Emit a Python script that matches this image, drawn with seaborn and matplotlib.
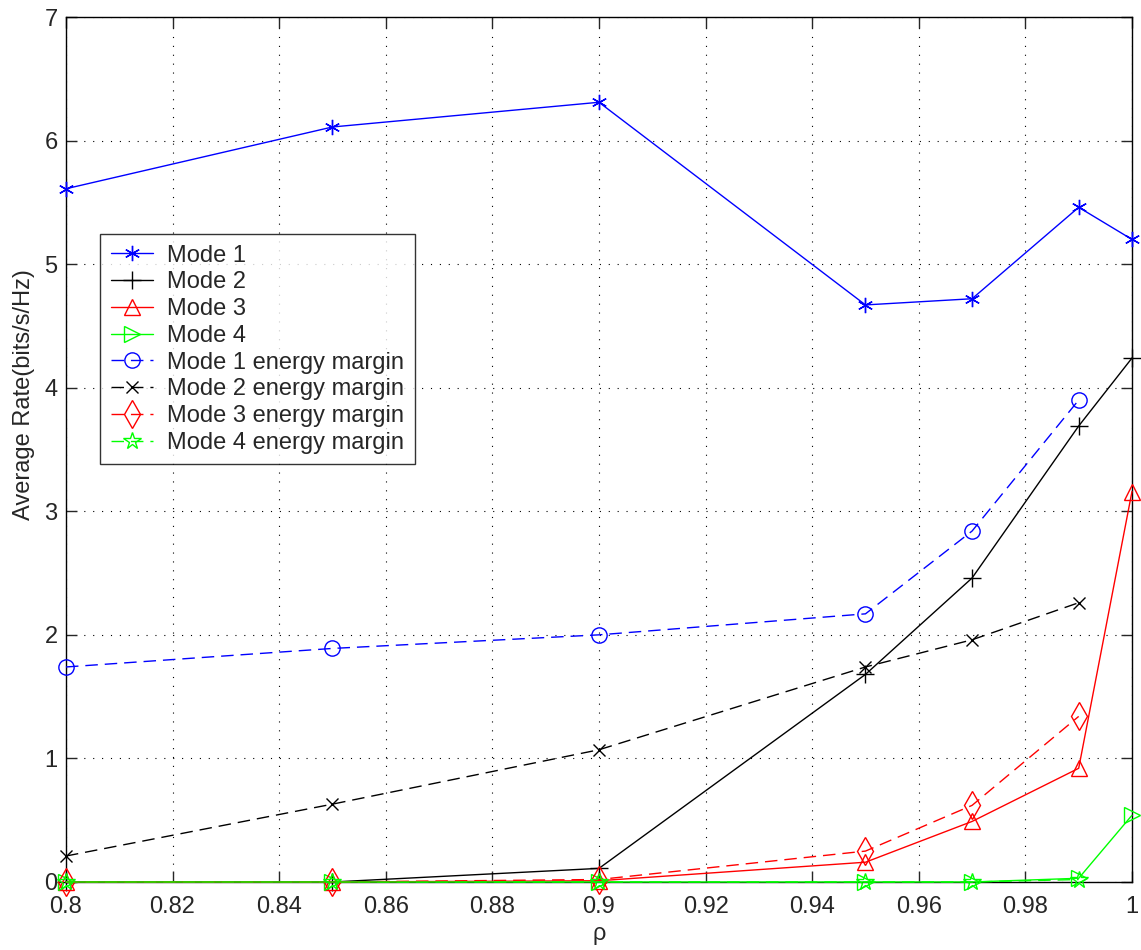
import numpy as np
import pandas as pd
import matplotlib
matplotlib.use("Agg")
import matplotlib.pyplot as plt
import seaborn as sns

# Data
rho = [0.8, 0.85, 0.9, 0.95, 0.97, 0.99, 1.0]
rho_em = [0.8, 0.85, 0.9, 0.95, 0.97, 0.99]

mode1 = [5.61, 6.11, 6.31, 4.67, 4.72, 5.46, 5.20]
mode2 = [0.0, 0.0, 0.11, 1.68, 2.46, 3.69, 4.24]
mode3 = [0.0, 0.0, 0.01, 0.16, 0.49, 0.92, 3.16]
mode4 = [0.0, 0.0, 0.0, 0.0, 0.0, 0.03, 0.54]

mode1_em = [1.74, 1.89, 2.00, 2.17, 2.84, 3.90]
mode2_em = [0.21, 0.63, 1.07, 1.74, 1.96, 2.26]
mode3_em = [0.0, 0.0, 0.02, 0.25, 0.62, 1.34]
mode4_em = [0.0, 0.0, 0.0, 0.0, 0.0, 0.02]

labels = ["Mode 1", "Mode 2", "Mode 3", "Mode 4",
          "Mode 1 energy margin", "Mode 2 energy margin",
          "Mode 3 energy margin", "Mode 4 energy margin"]

sns.set_style("ticks")
plt.rcParams['font.family'] = ['Liberation Sans', 'DejaVu Sans']

fig = plt.figure(figsize=(11.41, 9.5), dpi=100)
ax = fig.add_axes([0.0578, 0.0716, 0.9343, 0.9105])

dash = (0, (9, 5))
# (x, y, colour, marker, linestyle, markersize)
series = [
    (rho, mode1, "#0000ff", (6, 2, 0), "-", 11),
    (rho, mode2, "#000000", "+", "-", 13),
    (rho, mode3, "#ff0000", "^", "-", 12),
    (rho, mode4, "#00ff00", ">", "-", 12),
    (rho_em, mode1_em, "#0000ff", "o", dash, 11),
    (rho_em, mode2_em, "#000000", "x", dash, 9),
    (rho_em, mode3_em, "#ff0000", "d", dash, 14),
    (rho_em, mode4_em, "#00ff00", "*", dash, 13),
]

for (x, y, c, m, ls, ms), lab in zip(series, labels):
    sns.lineplot(x=x, y=y, ax=ax, color=c, marker=m, linestyle=ls,
                 markersize=ms, markerfacecolor="none", markeredgecolor=c,
                 markeredgewidth=1.0, linewidth=1.0, label=lab,
                 estimator=None, sort=False, clip_on=False, zorder=3)

ax.set_xlim(0.8, 1.0)
ax.set_ylim(0, 7)
ax.set_xticks(np.arange(0.8, 1.0001, 0.02))
ax.set_xticklabels(["0.8", "0.82", "0.84", "0.86", "0.88", "0.9",
                    "0.92", "0.94", "0.96", "0.98", "1"])
ax.set_yticks(range(0, 8))
ax.tick_params(direction="in", length=8, width=1, labelsize=17,
               top=True, right=True)
ax.tick_params(axis="x", pad=10)
ax.tick_params(axis="y", pad=6)
ax.grid(True, color="black", linestyle=(0, (1, 7)), linewidth=0.8)
for s in ax.spines.values():
    s.set_linewidth(1.0)
    s.set_color("black")
    s.set_zorder(2)

ax.set_xlabel("ρ", fontsize=17, labelpad=4)
ax.set_ylabel("Average Rate(bits/s/Hz)", fontsize=17, labelpad=8)
ax.yaxis.set_label_coords(-0.029, 0.564)

leg = ax.legend(loc="upper left", bbox_to_anchor=(0.032, 0.749), fontsize=17,
                frameon=True, fancybox=False, edgecolor="black",
                handlelength=1.8, borderpad=0.45, labelspacing=0.2,
                handletextpad=0.6, borderaxespad=0)
leg.get_frame().set_linewidth(1.0)
leg.set_zorder(5)

fig.savefig("out.png", dpi=100)
